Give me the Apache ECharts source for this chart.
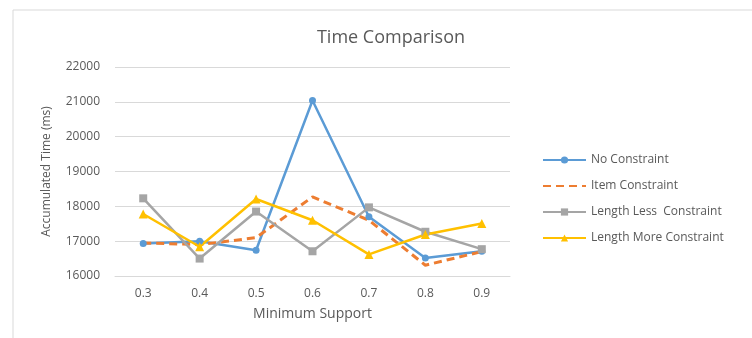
<!DOCTYPE html>
<html><head><meta charset="utf-8">
<script src="https://cdn.jsdelivr.net/npm/echarts@6/dist/echarts.min.js"></script>
<style>html,body{margin:0;padding:0;background:#fff}#c{width:752px;height:338px}</style>
</head><body><div id="c"></div>
<script>
const categories = ['0.3','0.4','0.5','0.6','0.7','0.8','0.9'];
const noConstraint = [16930, 17000, 16740, 21040, 17700, 16520, 16710];
const itemConstraint = [16950, 16900, 17100, 18270, 17600, 16310, 16700];
const lengthLess = [18230, 16500, 17850, 16710, 17970, 17270, 16770];
const lengthMore = [17780, 16840, 18210, 17600, 16620, 17190, 17510];
const seriesNames = ['No Constraint','Item Constraint','Length Less  Constraint','Length More Constraint'];
const yTicks = {min:16000, max:22000, interval:1000};

const font = 'Open Sans';
const chart = echarts.init(document.getElementById('c'));
chart.setOption({
  animation:false,
  textStyle:{fontFamily:font},
  graphic:[{type:'rect',shape:{x:13,y:10,width:760,height:340},style:{fill:'none',stroke:'#d9d9d9',lineWidth:1},silent:true}],
  title:{text:'Time Comparison',left:386,top:24,textAlign:'center',textStyle:{fontFamily:font,fontSize:18,fontWeight:'normal',color:'#595959'}},
  grid:{left:115,right:242,top:67,bottom:62},
  legend:{orient:'vertical',left:537,top:149,itemWidth:43,itemHeight:9,itemGap:14,
    textStyle:{fontFamily:font,fontSize:12,color:'#595959'},
    data:[seriesNames[0],{name:seriesNames[1],itemStyle:{opacity:0}},seriesNames[2],seriesNames[3]]},
  xAxis:{type:'category',data:categories,boundaryGap:true,
    name:'Minimum Support',nameLocation:'middle',nameGap:31,
    nameTextStyle:{fontFamily:font,fontSize:14,color:'#595959'},
    axisLine:{show:true,lineStyle:{color:'#d9d9d9'}},axisTick:{show:false},
    axisLabel:{fontFamily:font,fontSize:12,color:'#595959',margin:12}},
  yAxis:{type:'value',min:yTicks.min,max:yTicks.max,interval:yTicks.interval,
    name:'Accumulated Time (ms)',nameLocation:'middle',nameGap:62,
    nameTextStyle:{fontFamily:font,fontSize:12,color:'#595959'},
    axisLine:{show:false},axisTick:{show:false},
    splitLine:{lineStyle:{color:'#d9d9d9'}},
    axisLabel:{fontFamily:font,fontSize:12,color:'#595959',margin:15,formatter:v=>String(v)}},
  series:[
    {name:seriesNames[0],type:'line',data:noConstraint,symbol:'circle',symbolSize:7,
      lineStyle:{color:'#5B9BD5',width:2.5},itemStyle:{color:'#5B9BD5'}},
    {name:seriesNames[1],type:'line',data:itemConstraint,symbol:'none',
      lineStyle:{color:'#ED7D31',width:3,type:[8,5]},itemStyle:{color:'#ED7D31'}},
    {name:seriesNames[2],type:'line',data:lengthLess,symbol:'rect',symbolSize:8,
      lineStyle:{color:'#A5A5A5',width:2.5},itemStyle:{color:'#A5A5A5'}},
    {name:seriesNames[3],type:'line',data:lengthMore,symbol:'triangle',symbolSize:9,
      lineStyle:{color:'#FFC000',width:2.5},itemStyle:{color:'#FFC000'}}
  ]
});
</script></body></html>
